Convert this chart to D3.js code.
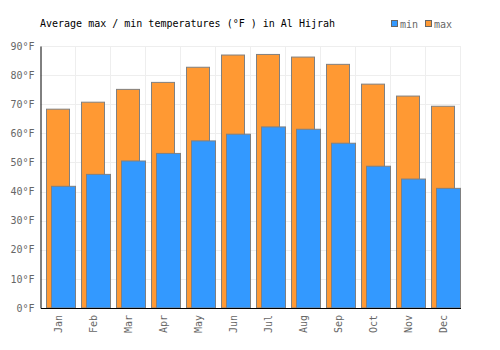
<!DOCTYPE html>
<html>
<head>
<meta charset="utf-8">
<script src="https://cdn.jsdelivr.net/npm/d3@7"></script>
<style>
  body { margin: 0; background: white; }
  text { font-family: "DejaVu Sans Mono", monospace; }
</style>
</head>
<body>
<div id="viz"></div>
<script>
const width = 500
const height = 350

const months = ["Jan", "Feb", "Mar", "Apr", "May", "Jun", "Jul", "Aug", "Sep", "Oct", "Nov", "Dec"]
const maxTemps = [68.3, 70.7, 75.1, 77.5, 82.7, 86.9, 87.1, 86.2, 83.7, 76.9, 72.8, 69.3]
const minTemps = [41.8, 45.9, 50.5, 53.1, 57.4, 59.7, 62.2, 61.4, 56.6, 48.7, 44.3, 41.1]
const yTicks = [0, 10, 20, 30, 40, 50, 60, 70, 80, 90]

const maxColor = "#ff9933"
const minColor = "#3399ff"
const labelColor = "#666"

const plot = {left: 40.5, right: 460.5, top: 46, bottom: 308}

const svg = d3.select("#viz").append("svg").attr("width", width).attr("height", height)

const xScale = d3.scaleBand().domain(months).range([plot.left, plot.right])
const yScale = d3.scaleLinear().domain([0, 90]).range([plot.bottom, plot.top])

// grid
const gridGroup = svg.append("g").attr("id", "gridGroup")
gridGroup.selectAll("line.h").data(yTicks.slice(1)).enter().append("line")
    .attr("x1", plot.left).attr("x2", plot.right)
    .attr("y1", d=>Math.round(yScale(d))+0.5).attr("y2", d=>Math.round(yScale(d))+0.5)
    .attr("stroke", "#eeeeee").attr("stroke-width", 1)
gridGroup.selectAll("line.v").data(months).enter().append("line")
    .attr("x1", d=>xScale(d)+xScale.bandwidth()).attr("x2", d=>xScale(d)+xScale.bandwidth())
    .attr("y1", plot.top).attr("y2", plot.bottom)
    .attr("stroke", "#eeeeee").attr("stroke-width", 1)

// bars
const barsGroup = svg.append("g").attr("id", "barsGroup")
barsGroup.selectAll("rect.max").data(maxTemps).enter().append("rect")
    .attr("class", "max")
    .attr("x", (d,i)=>xScale(months[i])+6).attr("width", 23)
    .attr("y", d=>yScale(d)).attr("height", d=>plot.bottom-yScale(d))
    .attr("fill", maxColor).attr("stroke", "#808080").attr("stroke-width", 1)
barsGroup.selectAll("rect.min").data(minTemps).enter().append("rect")
    .attr("class", "min")
    .attr("x", (d,i)=>xScale(months[i])+11).attr("width", 24)
    .attr("y", d=>yScale(d)).attr("height", d=>plot.bottom-yScale(d))
    .attr("fill", minColor).attr("stroke", "#808080").attr("stroke-width", 1)

// axes
const yAxis = d3.axisLeft(yScale).tickValues(yTicks).tickFormat(d=>d+"°F").tickSize(0).tickPadding(6)
const yAxisGroup = svg.append("g").attr("transform", `translate(${plot.left}, 0)`).call(yAxis)
yAxisGroup.select(".domain").attr("stroke", "black")
yAxisGroup.selectAll("text").attr("fill", labelColor).attr("font-size", 10)
    .attr("font-family", "DejaVu Sans Mono")

const xAxis = d3.axisBottom(xScale).tickSize(0)
const xAxisGroup = svg.append("g").attr("transform", `translate(0, ${plot.bottom})`).call(xAxis)
xAxisGroup.select(".domain").attr("stroke", "black")
xAxisGroup.selectAll("text").attr("fill", labelColor).attr("font-size", 10)
    .attr("font-family", "DejaVu Sans Mono")
    .attr("transform", "rotate(-90)").attr("text-anchor", "end")
    .attr("x", -7).attr("y", 0).attr("dy", "0.35em")

// title
svg.append("text").attr("x", 40).attr("y", 27).attr("font-size", 10).attr("fill", "black")
    .text("Average max / min temperatures (°F ) in Al Hijrah")

// legend
const legend = [{label: "min", color: minColor, x: 391}, {label: "max", color: maxColor, x: 425}]
const legendGroup = svg.append("g").attr("id", "legendGroup")
legendGroup.selectAll("rect").data(legend).enter().append("rect")
    .attr("x", d=>d.x+0.5).attr("y", 20.5).attr("width", 6).attr("height", 6)
    .attr("fill", d=>d.color).attr("stroke", "#666").attr("stroke-width", 1)
legendGroup.selectAll("text").data(legend).enter().append("text")
    .attr("x", d=>d.x+9).attr("y", 28).attr("font-size", 10).attr("fill", labelColor)
    .text(d=>d.label)
</script>
</body>
</html>
